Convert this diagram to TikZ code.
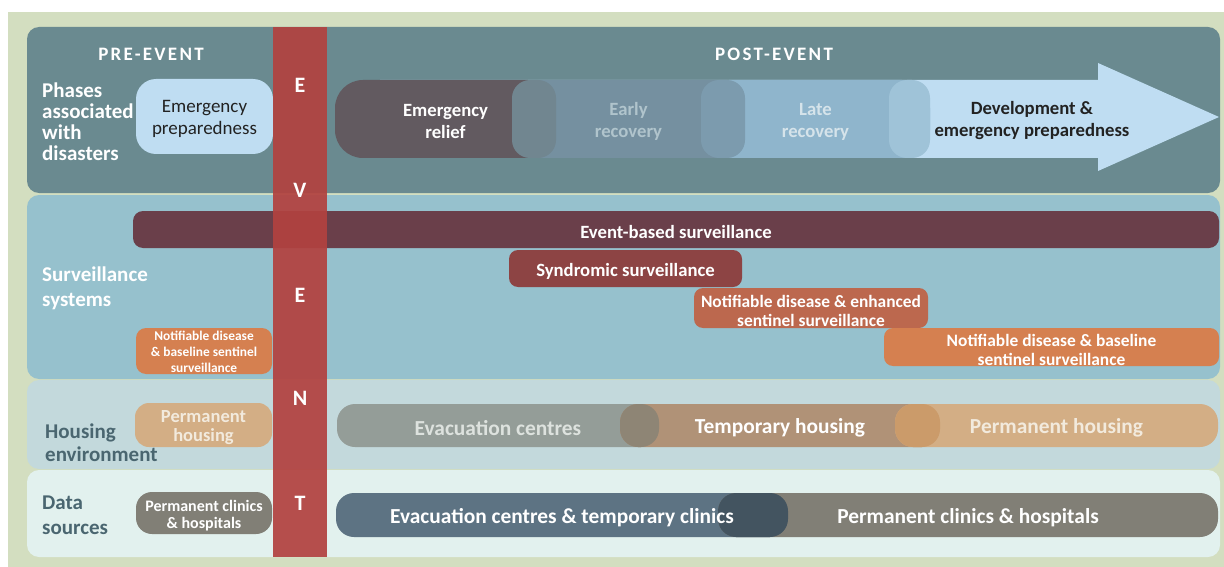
\documentclass[tikz,border=0pt]{standalone}
\usepackage{fontspec}
\setmainfont{Carlito}
\newfontfamily\spacedfont[LetterSpace=12]{Carlito}
\definecolor{bgGreen}{HTML}{D3DEC0}
\definecolor{phasePanel}{HTML}{6A8A90}
\definecolor{survPanel}{HTML}{96C1CD}
\definecolor{housePanel}{HTML}{C3D9DC}
\definecolor{dataPanel}{HTML}{E2F1EE}
\definecolor{eventRed}{HTML}{B24240}
\definecolor{prepBlue}{HTML}{BFDDF2}
\definecolor{reliefDark}{HTML}{625A60}
\definecolor{earlyC}{HTML}{7590A0}
\definecolor{lensA}{HTML}{718690}
\definecolor{lensB}{HTML}{7C9BAE}
\definecolor{lateC}{HTML}{8FB5CC}
\definecolor{lensC}{HTML}{9FC3D8}
\definecolor{ebsC}{HTML}{6A3F4A}
\definecolor{syndC}{HTML}{8D4444}
\definecolor{enhC}{HTML}{BC684E}
\definecolor{baseC}{HTML}{D58050}
\definecolor{evacC}{HTML}{949D98}
\definecolor{tempC}{HTML}{B09277}
\definecolor{permHC}{HTML}{D3AE85}
\definecolor{lensHA}{HTML}{8E8575}
\definecolor{lensHB}{HTML}{CB9B6A}
\definecolor{evacClin}{HTML}{5D7383}
\definecolor{permClin}{HTML}{817F76}
\definecolor{lensD}{HTML}{435460}
\definecolor{darkLabel}{HTML}{4A6670}
\definecolor{earlyTxt}{HTML}{B0C4CC}
\definecolor{lateTxt}{HTML}{D5E3EA}
\definecolor{evacTxt}{HTML}{DDE2DE}
\definecolor{permTxt}{HTML}{F2EADD}
\definecolor{devTxt}{HTML}{222222}
% rectangle node from (x1,y1) to (x2,y2)
\newcommand\rbox[7]{\node[#6, minimum width={(#4)-(#2)}, minimum height={(#5)-(#3)}] (#1) at ({((#2)+(#4))/2},{((#3)+(#5))/2}) {#7};}
\begin{document}
\begin{tikzpicture}[x=1pt,y=-1pt,
  shape box/.style={rectangle, inner sep=0pt, outer sep=0pt, draw=none},
  panel/.style={shape box, rounded corners=12pt},
  pill/.style={shape box, rounded corners=#1},
  pill/.default=24pt,
  lens/.style={shape box, rounded corners=18pt},
  btxt/.style={inner sep=0pt, align=center, yshift=-2.5pt, font=\fontsize{18.7}{22}\selectfont\bfseries, text=white},
  sidelabel/.style={inner sep=0pt, align=left, anchor=west, font=\fontsize{21}{#1}\selectfont\bfseries},
  sidelabel/.default=21,
  letter/.style={inner sep=0pt, font=\fontsize{22}{22}\selectfont\bfseries, text=white},
  heading/.style={inner sep=0pt, text=white, font=\fontsize{19}{20}\selectfont\bfseries\spacedfont}
]
\useasboundingbox (0,0) rectangle (1224,567);
\fill[white] (0,0) rectangle (1224,567);
\fill[bgGreen] (8,12) rectangle (1224,567);

% panels
\rbox{phases}{27}{27}{1220}{193}{panel, fill=phasePanel}{}
\rbox{surv}{27}{195}{1220}{379}{panel, fill=survPanel}{}
\rbox{house}{27}{380}{1220}{469}{panel, fill=housePanel}{}
\rbox{data}{27}{470}{1220}{557}{panel, fill=dataPanel}{}

% headings
\node[heading] (pre) at (151,54) {PRE-EVENT};
\node[heading] (post) at (774,54) {POST-EVENT};

% side labels
\node[sidelabel, text=white] (lphases) at (42,122) {Phases\\associated\\with\\disasters};
\node[sidelabel=25, text=white] (lsurv) at (42,288) {Surveillance\\systems};
\node[sidelabel=23, text=darkLabel] (lhouse) at (45,443) {Housing\\environment};
\node[sidelabel=25, text=darkLabel] (ldata) at (42,515) {Data\\sources};

% phases row
\rbox{prep}{136}{79}{273}{154}{pill=20pt, fill=prepBlue}{}
\node[inner sep=0pt, align=center, yshift=-2pt, font=\fontsize{19}{22}\selectfont, text=devTxt] (preptxt) at (prep.center) {Emergency\\preparedness};

\fill[prepBlue] (380,80) -- (1098,80) -- (1098,63) -- (1219,117) -- (1098,171) -- (1098,158) -- (380,158) -- cycle;
\coordinate (arrowtip) at (1219,117);
\rbox{relief}{335}{80}{556}{158}{pill=28pt, fill=reliefDark}{}
\rbox{early}{512}{80}{745}{158}{pill=28pt, fill=earlyC}{}
\rbox{late}{701}{80}{930}{158}{pill=28pt, fill=lateC}{}
\rbox{lensA}{512}{80}{556}{158}{lens, fill=lensA}{}
\rbox{lensB}{701}{80}{745}{158}{lens, fill=lensB}{}
\rbox{lensC}{889}{80}{930}{158}{lens, fill=lensC}{}
\node[btxt] (relieftxt) at (relief.center) {Emergency\\relief};
\node[btxt, text=earlyTxt] (earlytxt) at (early.center) {Early\\recovery};
\node[btxt, text=lateTxt] (latetxt) at (late.center) {Late\\recovery};
\node[btxt, text=devTxt] (devtxt) at (1032,118) {Development \&\\emergency preparedness};

% surveillance row
\rbox{ebs}{133}{211}{1219}{248}{pill=10pt, fill=ebsC}{}
\node[btxt] (ebstxt) at (ebs.center) {Event-based surveillance};
\rbox{synd}{509}{250}{742}{287}{pill=9pt, fill=syndC}{}
\node[btxt] (syndtxt) at (synd.center) {Syndromic surveillance};
\rbox{enh}{694}{288}{928}{328}{pill=9pt, fill=enhC}{}
\node[btxt, font=\fontsize{17.4}{19}\selectfont\bfseries] (enhtxt) at (enh.center) {Notifiable disease \& enhanced\\sentinel surveillance};
\rbox{base}{884}{328}{1219}{366}{pill=9pt, fill=baseC}{}
\node[btxt, font=\fontsize{17.4}{19}\selectfont\bfseries] (basetxt) at (base.center) {Notifiable disease \& baseline\\sentinel surveillance};
\rbox{basel}{136}{328}{272}{374}{pill=10pt, fill=baseC}{}
\node[btxt, yshift=1.5pt, font=\fontsize{13.4}{16}\selectfont\bfseries] (baseltxt) at (basel.center) {Notifiable disease\\\& baseline sentinel\\surveillance};

% housing row
\rbox{permhl}{135}{403}{272}{447}{pill=14pt, fill=permHC}{}
\node[btxt, text=permTxt, font=\fontsize{18.5}{19}\selectfont\bfseries] (permhltxt) at (permhl.center) {Permanent\\housing};
\rbox{evac}{337}{404}{659}{447}{pill=18pt, fill=evacC}{}
\rbox{temp}{620}{404}{940}{447}{pill=18pt, fill=tempC}{}
\rbox{permh}{895}{404}{1218}{447}{pill=18pt, fill=permHC}{}
\rbox{lensHA}{620}{404}{659}{447}{lens, fill=lensHA}{}
\rbox{lensHB}{895}{404}{940}{447}{lens, fill=lensHB}{}
\node[btxt, text=evacTxt, font=\fontsize{21.4}{22}\selectfont\bfseries] (evactxt) at (evac.center) {Evacuation centres};
\node[btxt, font=\fontsize{21.4}{22}\selectfont\bfseries] (temptxt) at (temp.center) {Temporary housing};
\node[btxt, text=permTxt, font=\fontsize{21.4}{22}\selectfont\bfseries] (permhtxt) at (permh.center) {Permanent housing};

% data row
\rbox{clinl}{136}{492}{272}{534}{pill=16pt, fill=permClin}{}
\node[btxt, font=\fontsize{16}{17}\selectfont\bfseries] (clinltxt) at (clinl.center) {Permanent clinics\\\& hospitals};
\rbox{evclin}{336}{493}{788}{537}{pill=18pt, fill=evacClin}{}
\rbox{permclin}{718}{493}{1218}{537}{pill=18pt, fill=permClin}{}
\rbox{lensD}{718}{493}{788}{537}{lens, fill=lensD}{}
\node[btxt, font=\fontsize{21.4}{22}\selectfont\bfseries] (evclintxt) at (evclin.center) {Evacuation centres \& temporary clinics};
\node[btxt, font=\fontsize{21.4}{22}\selectfont\bfseries] (permclintxt) at (permclin.center) {Permanent clinics \& hospitals};

% EVENT bar
\rbox{event}{273}{27}{327}{557}{shape box, fill=eventRed, fill opacity=0.93}{}
\node[letter] (eE1) at (300,85) {E};
\node[letter] (eV) at (300,190) {V};
\node[letter] (eE2) at (300,295) {E};
\node[letter] (eN) at (300,398) {N};
\node[letter] (eT) at (300,503) {T};
\end{tikzpicture}
\end{document}
